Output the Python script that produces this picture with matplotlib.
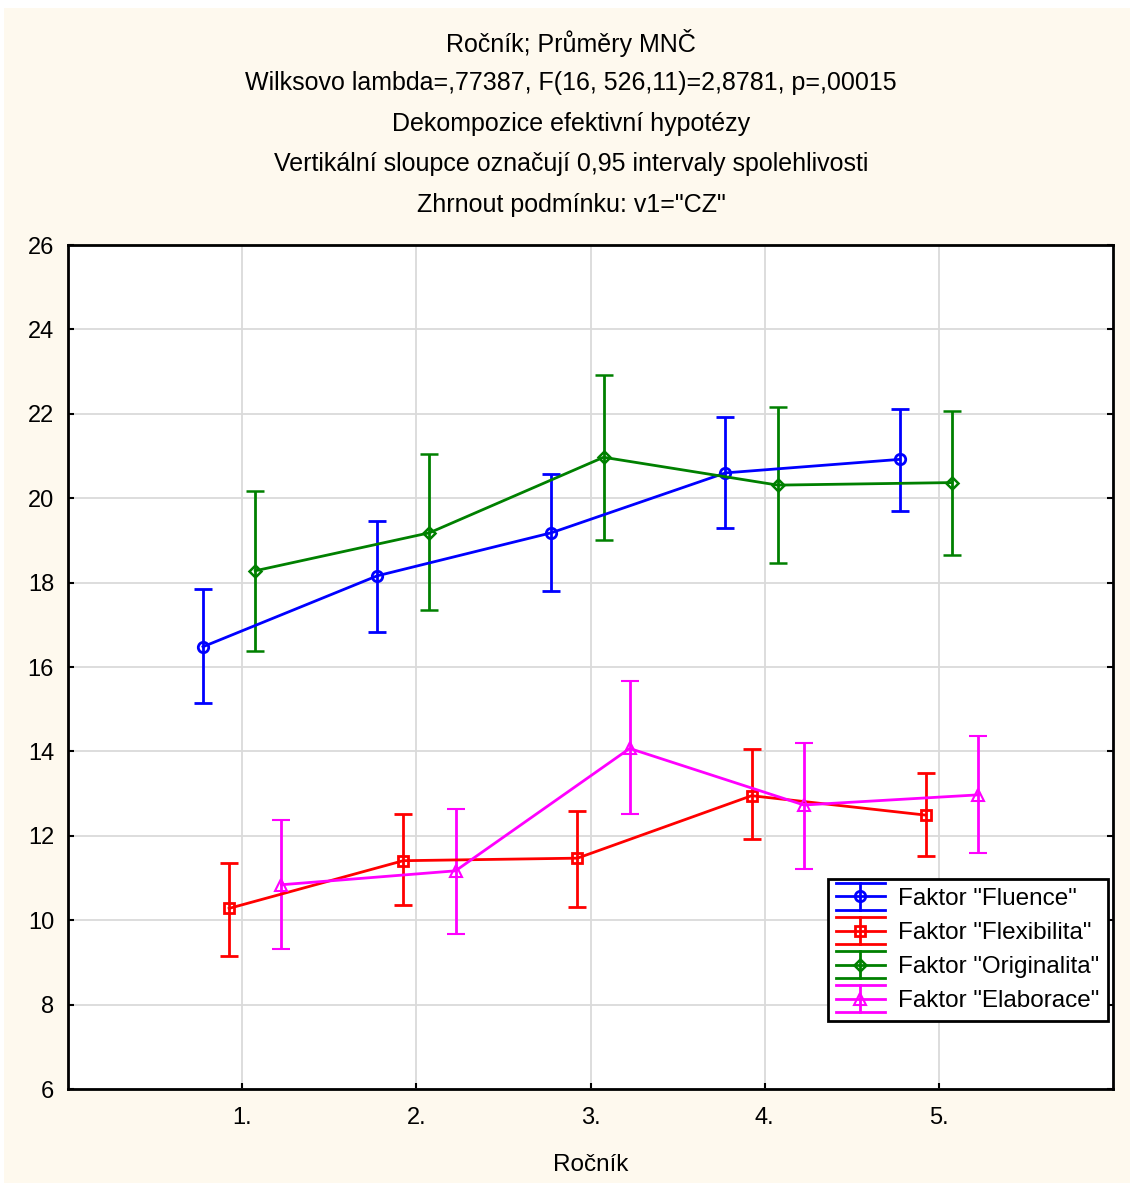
import matplotlib
matplotlib.use("Agg")
import matplotlib.pyplot as plt
from matplotlib.lines import Line2D
from matplotlib.legend_handler import HandlerBase
from matplotlib.patches import Rectangle
import numpy as np

plt.rcParams['font.family'] = ['Liberation Sans', 'DejaVu Sans']

# ---- data ----
categories = ["1.", "2.", "3.", "4.", "5."]
series_names = ['Faktor "Fluence"', 'Faktor "Flexibilita"', 'Faktor "Originalita"', 'Faktor "Elaborace"']

fluence_mean = [16.48, 18.16, 19.18, 20.60, 20.92]
fluence_low = [15.15, 16.83, 17.81, 19.30, 19.69]
fluence_high = [17.85, 19.46, 20.57, 21.92, 22.11]

flex_mean = [10.28, 11.41, 11.47, 12.95, 12.49]
flex_low = [9.16, 10.36, 10.32, 11.92, 11.53]
flex_high = [11.36, 12.51, 12.59, 14.05, 13.50]

orig_mean = [18.28, 19.18, 20.97, 20.31, 20.37]
orig_low = [16.38, 17.36, 19.02, 18.47, 18.65]
orig_high = [20.16, 21.05, 22.92, 22.15, 22.06]

elab_mean = [10.84, 11.17, 14.07, 12.73, 12.97]
elab_low = [9.31, 9.67, 12.52, 11.22, 11.59]
elab_high = [12.37, 12.64, 15.68, 14.19, 14.36]

title_lines = [
    "Ročník; Průměry MNČ",
    "Wilksovo lambda=,77387, F(16, 526,11)=2,8781, p=,00015",
    "Dekompozice efektivní hypotézy",
    "Vertikální sloupce označují 0,95 intervaly spolehlivosti",
    "Zhrnout podmínku: v1=\"CZ\"",
]
x_label = "Ročník"
y_ticks = [6, 8, 10, 12, 14, 16, 18, 20, 22, 24, 26]

# ---- style ----
colors = ['#0000FF', '#FF0000', '#008000', '#FF00FF']
markers = ['o', 's', 'D', '^']
msizes = [7.5, 7, 6.5, 8]
medge = [2.0, 2.0, 1.8, 1.5]
offsets = [-0.225, -0.075, 0.075, 0.225]
LW = 2.0

W, H = 1130, 1194
fig = plt.figure(figsize=(W / 100, H / 100), dpi=100)
fig.patch.set_facecolor('white')
fig.patches.append(Rectangle((4 / W, 1 - 1183 / H), (W - 4) / W, (1183 - 8) / H,
                             transform=fig.transFigure, facecolor='#FEF9EE',
                             edgecolor='none', zorder=-10))

ax = fig.add_axes([68 / W, 1 - 1089 / H, (1113 - 68) / W, (1089 - 245) / H])
ax.set_facecolor('white')

data = [
    (fluence_mean, fluence_low, fluence_high),
    (flex_mean, flex_low, flex_high),
    (orig_mean, orig_low, orig_high),
    (elab_mean, elab_low, elab_high),
]
xs = np.arange(1, len(categories) + 1)
for i, (m, lo, hi) in enumerate(data):
    m = np.array(m); lo = np.array(lo); hi = np.array(hi)
    ax.errorbar(xs + offsets[i], m, yerr=[m - lo, hi - m], color=colors[i],
                lw=LW, elinewidth=LW, capsize=6.5, capthick=LW,
                marker=markers[i], markersize=msizes[i], markerfacecolor='none',
                markeredgecolor=colors[i], markeredgewidth=medge[i], zorder=3)

ax.set_xlim(0, 6)
ax.set_ylim(6, 26)
ax.set_xticks(xs)
ax.set_xticklabels(categories)
ax.set_yticks(y_ticks)
ax.grid(True, color='#DADADA', lw=1.3, zorder=0)
ax.set_axisbelow(True)
for s in ax.spines.values():
    s.set_linewidth(2)
    s.set_color('black')
ax.tick_params(axis='both', direction='in', length=4, width=1.5, labelsize=17,
               colors='black')
ax.tick_params(axis='y', right=True, pad=10)
ax.tick_params(axis='x', pad=13)
ax.set_xlabel(x_label, fontsize=17.5, labelpad=18)

# titles
ys = [43, 83, 124, 164, 205]
for t, yy in zip(title_lines, ys):
    fig.text(571 / W, 1 - yy / H, t, ha='center', va='center', fontsize=18)


class ErrHandler(HandlerBase):
    def __init__(self, color, marker, ms, mew):
        super().__init__()
        self.color = color
        self.marker = marker
        self.ms = ms
        self.mew = mew

    def create_artists(self, legend, orig_handle, xdescent, ydescent, width, height,
                       fontsize, trans):
        cy = height / 2 - ydescent
        x0, x1 = -xdescent, -xdescent + width
        cx = (x0 + x1) / 2
        d = 9.7
        arts = []
        for yy in (cy - d, cy, cy + d):
            arts.append(Line2D([x0, x1], [yy, yy], color=self.color, lw=LW, transform=trans))
        arts.append(Line2D([cx, cx], [cy - d, cy + d], color=self.color, lw=LW, transform=trans))
        arts.append(Line2D([cx], [cy], marker=self.marker, markersize=self.ms,
                           markerfacecolor='none', markeredgecolor=self.color,
                           markeredgewidth=self.mew, linestyle='none', transform=trans))
        return arts


handles = [Line2D([], [], color=c) for c in colors]
hmap = {h: ErrHandler(c, mk, ms, mw) for h, c, mk, ms, mw in zip(handles, colors, markers, msizes, medge)}
leg = ax.legend(handles, series_names, handler_map=hmap, loc='lower right',
                bbox_to_anchor=(0.995, 0.0806), borderaxespad=0, fontsize=17.5,
                frameon=True, fancybox=False, handlelength=2.0, handletextpad=0.55,
                labelspacing=0.5, borderpad=0.35)
leg.get_frame().set_edgecolor('black')
leg.get_frame().set_linewidth(2)
leg.get_frame().set_facecolor('white')
leg.get_frame().set_alpha(1)

fig.savefig('out.png', dpi=100)
